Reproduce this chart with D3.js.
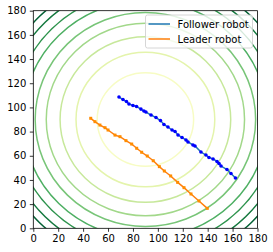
<!DOCTYPE html>
<html>
<head>
<meta charset="utf-8">
<script src="https://cdn.jsdelivr.net/npm/d3@7"></script>
<style>
  body { margin: 0; background: #fff; }
  text { font-family: "DejaVu Sans", sans-serif; }
</style>
</head>
<body>
<div id="wrapper"></div>
<script>
// contour rings around the centre, radius in data units (inner -> outer)
const contourCenter = [90, 90]
const contourRadii = [38.7, 55.7, 68.5, 79.6, 88.5, 98.3, 106.2, 113.8, 120.4]

const followerX = [68.8, 72.0, 74.8, 76.8, 80.0, 82.9, 86.4, 88.8, 90.4, 94.5, 98.5, 102.1, 104.9, 108.1, 111.4, 113.8,
    116.2, 119.4, 122.6, 124.2, 128.2, 129.8, 134.6, 138.6, 141.0, 144.3, 147.5, 149.1, 150.7, 155.5, 158.7, 162.3]
const followerY = [108.6, 106.5, 104.9, 102.8, 101.6, 100.7, 98.6, 97.0, 96.2, 93.7, 91.6, 89.1, 85.9, 83.8, 81.3, 80.1,
    77.2, 75.1, 73.1, 71.4, 68.9, 68.1, 63.1, 60.6, 58.6, 57.3, 55.3, 53.6, 51.5, 48.6, 45.3, 41.6]

const leaderX = [46.1, 49.5, 53.5, 57.6, 60.0, 65.6, 69.6, 74.4, 79.0, 83.0, 87.0, 91.5, 96.3, 101.2, 105.2, 110.3,
    115.9, 121.0, 126.6, 133.0, 139.7]
const leaderY = [91.0, 88.2, 85.4, 83.2, 81.3, 77.1, 75.8, 72.5, 69.7, 66.2, 62.9, 59.8, 55.9, 51.0, 47.4, 43.3,
    38.0, 33.6, 28.4, 22.6, 16.5]

const ticks = [0, 20, 40, 60, 80, 100, 120, 140, 160, 180]
const seriesNames = ["Follower robot", "Leader robot"]

const dimensions = {
    width: 273,
    height: 252,
    margin: { top: 10.7, right: 15.5, bottom: 23.7, left: 33.3 },
}
dimensions.boundedWidth = dimensions.width - dimensions.margin.left - dimensions.margin.right
dimensions.boundedHeight = dimensions.height - dimensions.margin.top - dimensions.margin.bottom

const svg = d3.select("#wrapper")
    .append("svg")
    .attr("width", dimensions.width)
    .attr("height", dimensions.height)

const bounds = svg.append("g")
    .attr("transform", `translate(${dimensions.margin.left},${dimensions.margin.top})`)

const xScale = d3.scaleLinear().domain([0, 180]).range([0, dimensions.boundedWidth])
const yScale = d3.scaleLinear().domain([0, 180]).range([dimensions.boundedHeight, 0])

svg.append("defs").append("clipPath").attr("id", "plot-clip")
    .append("rect")
    .attr("width", dimensions.boundedWidth)
    .attr("height", dimensions.boundedHeight)

// contour rings
const rings = bounds.append("g").attr("clip-path", "url(#plot-clip)")
rings.selectAll("ellipse")
    .data(contourRadii)
    .join("ellipse")
    .attr("cx", xScale(contourCenter[0]))
    .attr("cy", yScale(contourCenter[1]))
    .attr("rx", d => xScale(d) - xScale(0))
    .attr("ry", d => yScale(0) - yScale(d))
    .attr("fill", "none")
    .attr("stroke", (d, i) => d3.interpolateYlGn((i + 1) / 10))
    .attr("stroke-width", 1.5)

const toPoints = (xs, ys) => xs.map((x, i) => [x, ys[i]])
const follower = toPoints(followerX, followerY)
const leader = toPoints(leaderX, leaderY)

const lineGenerator = d3.line()
    .x(d => xScale(d[0]))
    .y(d => yScale(d[1]))

bounds.append("path")
    .attr("d", lineGenerator(follower))
    .attr("fill", "none")
    .attr("stroke", "#1f77b4")
    .attr("stroke-width", 1.5)
bounds.append("g").selectAll("circle")
    .data(follower)
    .join("circle")
    .attr("cx", d => xScale(d[0]))
    .attr("cy", d => yScale(d[1]))
    .attr("r", 1.8)
    .attr("fill", "#0000ff")

bounds.append("path")
    .attr("d", lineGenerator(leader))
    .attr("fill", "none")
    .attr("stroke", "#ff7f0e")
    .attr("stroke-width", 1.5)
bounds.append("g").selectAll("rect")
    .data(leader)
    .join("rect")
    .attr("x", d => xScale(d[0]) - 1.5)
    .attr("y", d => yScale(d[1]) - 1.5)
    .attr("width", 3)
    .attr("height", 3)
    .attr("fill", "#ff8c00")

// axes
const xAxis = bounds.append("g")
    .attr("transform", `translate(0,${dimensions.boundedHeight})`)
    .call(d3.axisBottom(xScale).tickValues(ticks).tickSize(3.5).tickPadding(3.5))
const yAxis = bounds.append("g")
    .call(d3.axisLeft(yScale).tickValues(ticks).tickSize(3.5).tickPadding(3.5))

for (const ax of [xAxis, yAxis]) {
    ax.select(".domain").remove()
    ax.selectAll("line").attr("stroke", "#000").attr("stroke-width", 0.8)
    ax.selectAll("text").attr("font-size", 10).attr("fill", "#000")
        .attr("font-family", "DejaVu Sans, sans-serif")
}

bounds.append("rect")
    .attr("width", dimensions.boundedWidth)
    .attr("height", dimensions.boundedHeight)
    .attr("fill", "none")
    .attr("stroke", "#000")
    .attr("stroke-width", 0.8)

// legend
const legend = svg.append("g").attr("transform", "translate(145.5,15)")
legend.append("rect")
    .attr("width", 107)
    .attr("height", 33)
    .attr("rx", 2)
    .attr("fill", "#fff")
    .attr("fill-opacity", 0.8)
    .attr("stroke", "#cccccc")
    .attr("stroke-width", 0.8)
const legendColors = ["#1f77b4", "#ff7f0e"]
seriesNames.forEach((name, i) => {
    const g = legend.append("g").attr("transform", `translate(0,${9 + i * 15})`)
    g.append("line")
        .attr("x1", 3).attr("x2", 24.5)
        .attr("stroke", legendColors[i])
        .attr("stroke-width", 1.5)
    g.append("text")
        .attr("x", 32)
        .attr("y", 3.6)
        .attr("font-size", 10)
        .attr("fill", "#000")
        .text(name)
})
</script>
</body>
</html>
